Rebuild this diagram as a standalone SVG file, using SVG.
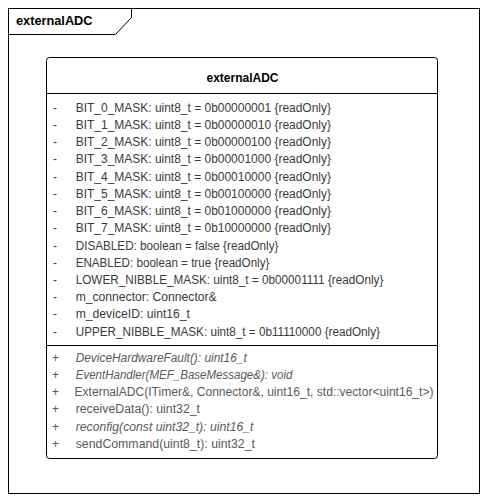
<svg xmlns="http://www.w3.org/2000/svg" width="487" height="501" viewBox="0 0 487 501">
<style>
.ln{fill:none;stroke:#000;stroke-width:1}
.t{font-family:"Liberation Sans",Arial,sans-serif;font-size:12px}
.b{font-weight:bold;fill:#000}
.a{fill:#3a3a3a}
.m{fill:#5a5a5a}
.i{font-style:italic}
</style>
<rect width="487" height="501" fill="#fff"/>
<g id="frame">
<rect class="ln" x="8.5" y="8.5" width="471" height="485"/>
<path class="ln" d="M8.5 34.5H115.5L131.5 17.5V8.5"/>
<text class="t b" x="16" y="25" font-size="13" textLength="76.5" lengthAdjust="spacingAndGlyphs">externalADC</text>
</g>
<g id="externalADC">
<rect class="ln" x="46.5" y="57.5" width="391" height="401" rx="3"/>
<path class="ln" d="M46.5 93.5H437.5M46.5 345.5H437.5"/>
<text class="t b" x="242.5" y="82.3" text-anchor="middle">externalADC</text>
<g class="t a">
<text x="53" y="111.6">-</text><text x="75.7" y="111.6" textLength="255.3" lengthAdjust="spacingAndGlyphs">BIT_0_MASK: uint8_t = 0b00000001 {readOnly}</text>
<text x="53" y="128.8">-</text><text x="75.7" y="128.8" textLength="255.3" lengthAdjust="spacingAndGlyphs">BIT_1_MASK: uint8_t = 0b00000010 {readOnly}</text>
<text x="53" y="146.1">-</text><text x="75.7" y="146.1" textLength="255.3" lengthAdjust="spacingAndGlyphs">BIT_2_MASK: uint8_t = 0b00000100 {readOnly}</text>
<text x="53" y="163.3">-</text><text x="75.7" y="163.3" textLength="255.3" lengthAdjust="spacingAndGlyphs">BIT_3_MASK: uint8_t = 0b00001000 {readOnly}</text>
<text x="53" y="180.5">-</text><text x="75.7" y="180.5" textLength="255.3" lengthAdjust="spacingAndGlyphs">BIT_4_MASK: uint8_t = 0b00010000 {readOnly}</text>
<text x="53" y="197.8">-</text><text x="75.7" y="197.8" textLength="255.3" lengthAdjust="spacingAndGlyphs">BIT_5_MASK: uint8_t = 0b00100000 {readOnly}</text>
<text x="53" y="215">-</text><text x="75.7" y="215" textLength="255.3" lengthAdjust="spacingAndGlyphs">BIT_6_MASK: uint8_t = 0b01000000 {readOnly}</text>
<text x="53" y="232.2">-</text><text x="75.7" y="232.2" textLength="255.3" lengthAdjust="spacingAndGlyphs">BIT_7_MASK: uint8_t = 0b10000000 {readOnly}</text>
<text x="53" y="249.5">-</text><text x="75.7" y="249.5" textLength="202.7" lengthAdjust="spacingAndGlyphs">DISABLED: boolean = false {readOnly}</text>
<text x="53" y="266.7">-</text><text x="75.7" y="266.7" textLength="193.7" lengthAdjust="spacingAndGlyphs">ENABLED: boolean = true {readOnly}</text>
<text x="53" y="283.9">-</text><text x="75.7" y="283.9" textLength="307.7" lengthAdjust="spacingAndGlyphs">LOWER_NIBBLE_MASK: uint8_t = 0b00001111 {readOnly}</text>
<text x="53" y="301.2">-</text><text x="75.7" y="301.2" textLength="141" lengthAdjust="spacingAndGlyphs">m_connector: Connector&amp;</text>
<text x="53" y="318.4">-</text><text x="75.7" y="318.4" textLength="114.3" lengthAdjust="spacingAndGlyphs">m_deviceID: uint16_t</text>
<text x="53" y="335.7">-</text><text x="75.7" y="335.7" textLength="304.3" lengthAdjust="spacingAndGlyphs">UPPER_NIBBLE_MASK: uint8_t = 0b11110000 {readOnly}</text>
</g>
<g class="t m">
<text x="52" y="361.7">+</text><text class="i" x="75.7" y="361.7" textLength="171" lengthAdjust="spacingAndGlyphs">DeviceHardwareFault(): uint16_t</text>
<text x="52" y="378.9">+</text><text class="i" x="75.7" y="378.9" textLength="216.7" lengthAdjust="spacingAndGlyphs">EventHandler(MEF_BaseMessage&amp;): void</text>
<text x="52" y="396.1">+</text><text x="74.5" y="396.1" textLength="359" lengthAdjust="spacingAndGlyphs">ExternalADC(ITimer&amp;, Connector&amp;, uint16_t, std::vector&lt;uint16_t&gt;)</text>
<text x="52" y="413.3">+</text><text x="75.7" y="413.3" textLength="124.3" lengthAdjust="spacingAndGlyphs">receiveData(): uint32_t</text>
<text x="52" y="430.5">+</text><text class="i" x="75.7" y="430.5" textLength="177.7" lengthAdjust="spacingAndGlyphs">reconfig(const uint32_t): uint16_t</text>
<text x="52" y="447.7">+</text><text x="75.7" y="447.7" textLength="179.3" lengthAdjust="spacingAndGlyphs">sendCommand(uint8_t): uint32_t</text>
</g>
</g>
<g id="connectors"/>
</svg>
